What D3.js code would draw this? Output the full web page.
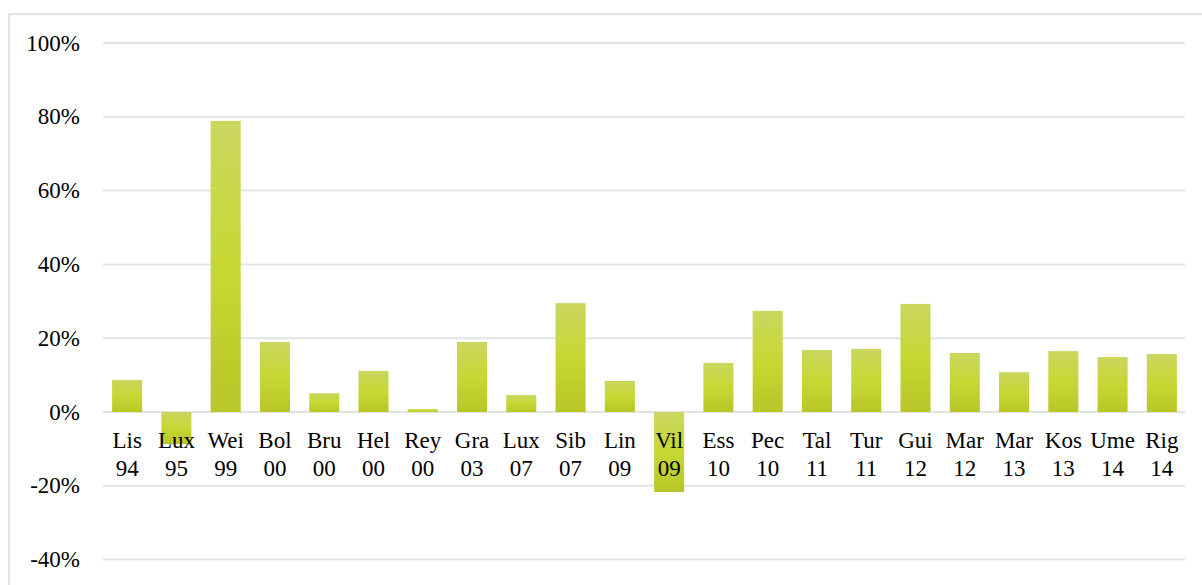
<!DOCTYPE html>
<html>
<head>
<meta charset="utf-8">
<script src="https://cdn.jsdelivr.net/npm/d3@7"></script>
<style>
  body { margin: 0; background: #fff; }
  svg text { font-family: "Liberation Serif", "Times New Roman", serif; fill: #000; }
</style>
</head>
<body>
<svg id="svg" width="1202" height="585"></svg>
<script>
let svg = d3.select("#svg");

/* Data */
let places = ["Lis", "Lux", "Wei", "Bol", "Bru", "Hel", "Rey", "Gra", "Lux", "Sib", "Lin",
  "Vil", "Ess", "Pec", "Tal", "Tur", "Gui", "Mar", "Mar", "Kos", "Ume", "Rig"];
let years = ["94", "95", "99", "00", "00", "00", "00", "03", "07", "07", "09",
  "09", "10", "10", "11", "11", "12", "12", "13", "13", "14", "14"];
let values = [8.7, -8.7, 78.9, 19.0, 5.1, 11.1, 0.8, 19.0, 4.6, 29.5, 8.4,
  -21.7, 13.3, 27.4, 16.8, 17.1, 29.3, 16.0, 10.8, 16.5, 14.9, 15.7];
let yTicks = [-40, -20, 0, 20, 40, 60, 80, 100];

/* Frame */
svg.append("rect")
  .attr("x", 9)
  .attr("y", 14)
  .attr("width", 1200)
  .attr("height", 580)
  .attr("fill", "none")
  .attr("stroke", "#dfe5e3")
  .attr("stroke-width", 2);

/* Scales */
let x = d3.scaleBand()
  .domain(d3.range(places.length))
  .range([102.5, 1186.5])
  .paddingInner(0.39)
  .paddingOuter(0.195);

let y = d3.scaleLinear()
  .domain([-40, 100])
  .range([559.6, 43]);

/* Gradient */
let grad = svg.append("defs").append("linearGradient")
  .attr("id", "barGrad")
  .attr("x1", 0).attr("y1", 0)
  .attr("x2", 0).attr("y2", 1);
grad.append("stop").attr("offset", "0%").attr("stop-color", "#cad65f");
grad.append("stop").attr("offset", "50%").attr("stop-color", "#c7d833");
grad.append("stop").attr("offset", "100%").attr("stop-color", "#b8c627");

/* Gridlines */
svg.append("g")
  .selectAll("line")
  .data(yTicks)
  .join("line")
  .attr("x1", 103)
  .attr("x2", 1185)
  .attr("y1", d => y(d))
  .attr("y2", d => y(d))
  .attr("stroke", "#dfe5e3")
  .attr("stroke-width", 2);

/* Y labels */
svg.append("g")
  .selectAll("text")
  .data(yTicks)
  .join("text")
  .attr("x", 80)
  .attr("y", d => y(d))
  .attr("dy", "0.33em")
  .attr("text-anchor", "end")
  .attr("font-size", 23)
  .text(d => d + "%");

/* Bars */
svg.append("g")
  .selectAll("rect")
  .data(values)
  .join("rect")
  .attr("x", (d, i) => x(i))
  .attr("width", x.bandwidth())
  .attr("y", d => y(Math.max(0, d)))
  .attr("height", d => Math.abs(y(d) - y(0)))
  .attr("fill", "url(#barGrad)");

/* Category labels */
let labels = svg.append("g")
  .selectAll("text")
  .data(places)
  .join("text")
  .attr("text-anchor", "middle")
  .attr("font-size", 23);

labels.append("tspan")
  .attr("x", (d, i) => x(i) + x.bandwidth() / 2)
  .attr("y", 448)
  .text(d => d);

labels.append("tspan")
  .attr("x", (d, i) => x(i) + x.bandwidth() / 2)
  .attr("y", 476)
  .text((d, i) => years[i]);
</script>
</body>
</html>
